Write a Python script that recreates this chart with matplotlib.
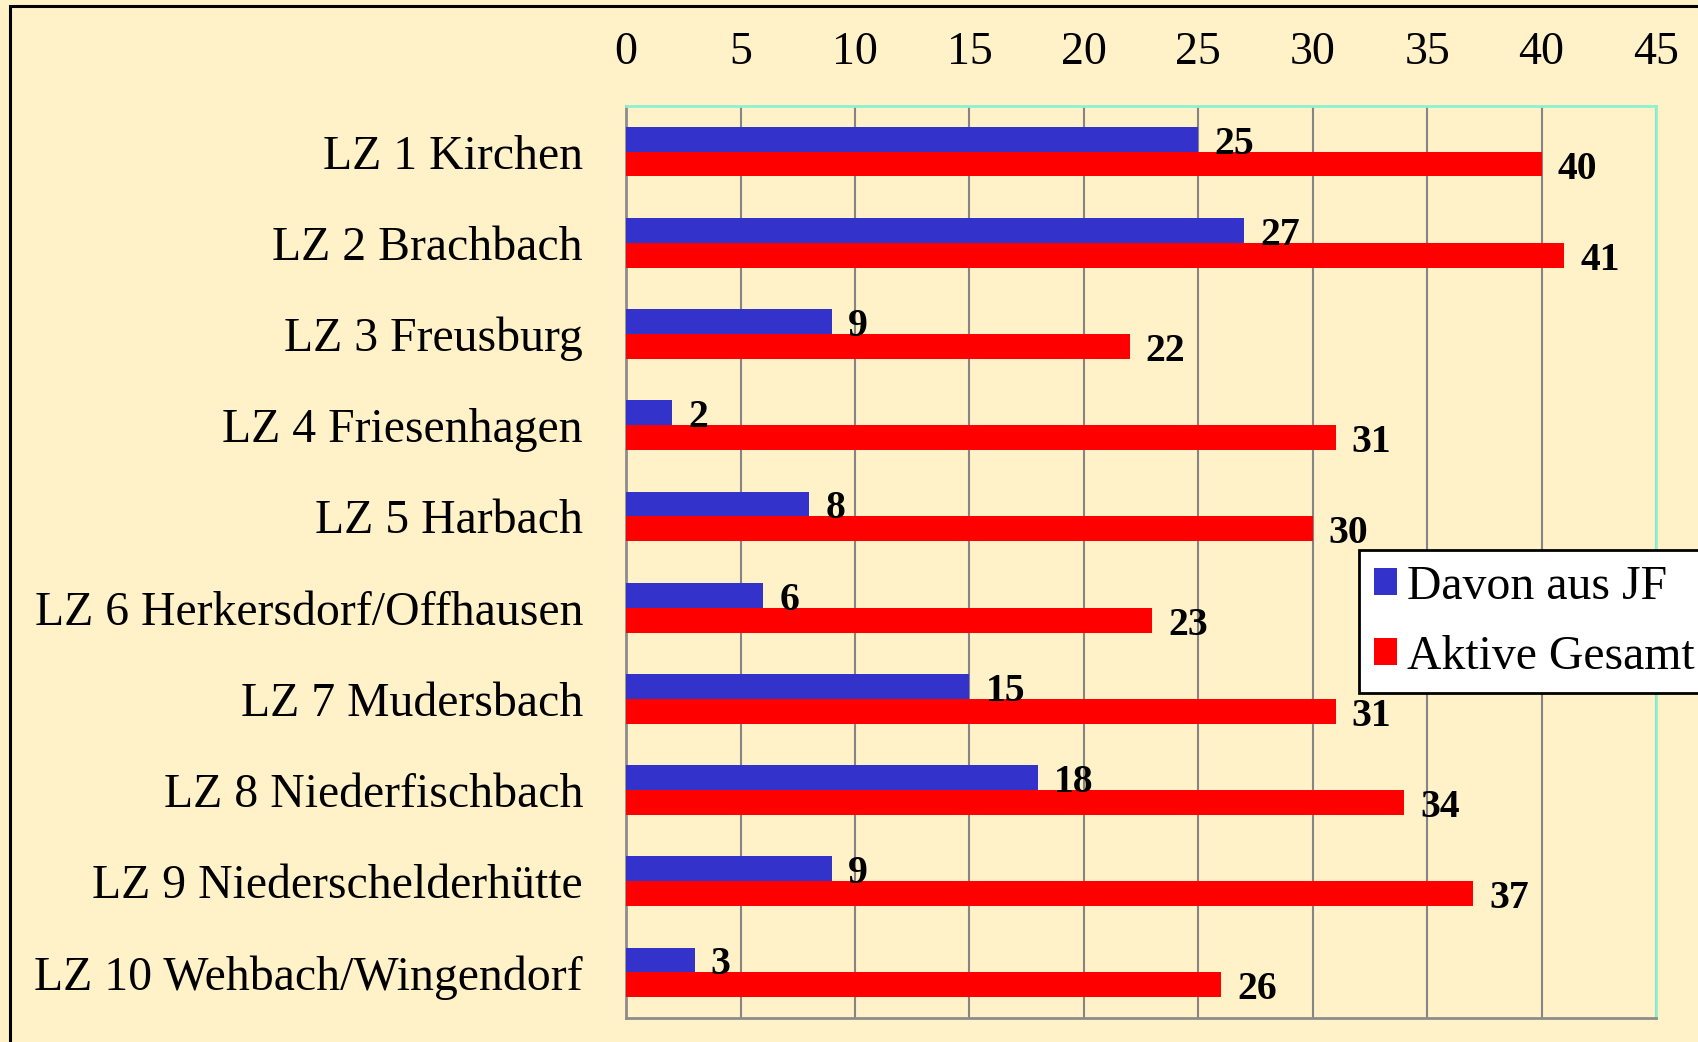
import matplotlib
matplotlib.use("Agg")
import matplotlib.pyplot as plt
import numpy as np
from matplotlib.patches import Rectangle

categories = ["LZ 1 Kirchen", "LZ 2 Brachbach", "LZ 3 Freusburg", "LZ 4 Friesenhagen",
              "LZ 5 Harbach", "LZ 6 Herkersdorf/Offhausen", "LZ 7 Mudersbach",
              "LZ 8 Niederfischbach", "LZ 9 Niederschelderhütte", "LZ 10 Wehbach/Wingendorf"]
davon_jf = [25, 27, 9, 2, 8, 6, 15, 18, 9, 3]
aktive_gesamt = [40, 41, 22, 31, 30, 23, 31, 34, 37, 26]
xticks = [0, 5, 10, 15, 20, 25, 30, 35, 40, 45]

BG = "#FFF1C8"
BLUE = "#3333CC"
RED = "#FF0000"
plt.rcParams['font.family'] = ['Liberation Serif', 'DejaVu Serif']

fig = plt.figure(figsize=(16.99, 10.42), dpi=100, facecolor=BG)
ax = fig.add_axes([0.3685, 0.023, 0.6062, 0.8753])
ax.set_facecolor(BG)

y = np.arange(len(categories))
h = 0.273
ax.barh(y - h/2, davon_jf, height=h, color=BLUE, label="Davon aus JF", zorder=3)
ax.barh(y + h/2, aktive_gesamt, height=h, color=RED, label="Aktive Gesamt", zorder=3)

for yi, v in zip(y, davon_jf):
    ax.text(v + 0.7, yi - h/2 + 0.055, str(v), ha="left", va="center", fontsize=28.5,
            fontweight="bold", color="black", zorder=4)
for yi, v in zip(y, aktive_gesamt):
    ax.text(v + 0.7, yi + h/2 + 0.055, str(v), ha="left", va="center", fontsize=28.5,
            fontweight="bold", color="black", zorder=4)

ax.set_xlim(0, 45)
ax.set_ylim(len(categories) - 0.5, -0.5)
ax.set_xticks(xticks)
ax.set_xticklabels([str(t) for t in xticks])
ax.set_yticks(y)
ax.set_yticklabels(categories)
ax.xaxis.tick_top()
ax.tick_params(axis="x", length=0, pad=23, labelsize=33)
ax.tick_params(axis="y", length=0, pad=31, labelsize=34.4)
ax.grid(axis="x", color="#858585", linewidth=1.5, zorder=1)
ax.set_axisbelow(True)

for s in ["left", "bottom"]:
    ax.spines[s].set_color("#8C8C8C")
    ax.spines[s].set_linewidth(2)
for s in ["top", "right"]:
    ax.spines[s].set_color("#8FF0D0")
    ax.spines[s].set_linewidth(2)

leg = fig.legend(loc="upper left", bbox_to_anchor=(0.8, 0.472), fontsize=34.4,
                 frameon=True, fancybox=False, handlelength=0.5, handleheight=0.5,
                 handletextpad=0.2, borderpad=0.3, labelspacing=0.55, borderaxespad=0)
leg.get_frame().set_edgecolor("black")
leg.get_frame().set_linewidth(2)
leg.get_frame().set_facecolor("white")
leg.get_frame().set_alpha(1)

fig.patches.append(Rectangle((10.5/1699, -0.1), 1.2, 1.1 - 6.5/1042, transform=fig.transFigure,
                             fill=False, edgecolor="black", linewidth=2.2, zorder=10))

fig.savefig("out.png", dpi=100, facecolor=BG)
